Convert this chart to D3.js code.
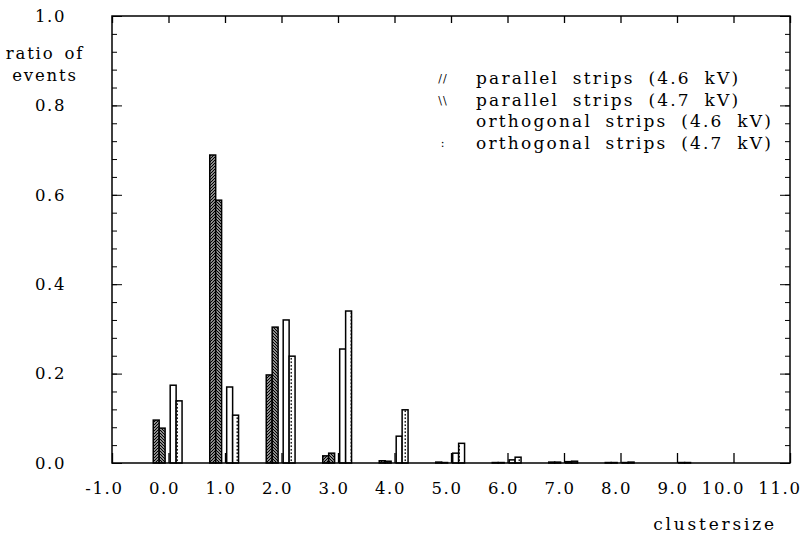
<!DOCTYPE html>
<html>
<head>
<meta charset="utf-8">
<script src="https://cdn.jsdelivr.net/npm/d3@7"></script>
<style>
  body { margin: 0; background: #fff; }
  text { font-family: "DejaVu Serif", serif; fill: #000; }
</style>
</head>
<body>
<div id="chart"></div>
<script>
const width = 808,
  height = 536,
  margin = { top: 16, bottom: 73, left: 112, right: 15 };

// cluster sizes and ratio of events per series
const clusterSizes = [0, 1, 2, 3, 4, 5, 6, 7, 8, 9];
const parallel46 = [0.096, 0.689, 0.197, 0.016, 0.005, 0.002, 0.001, 0.002, 0.001, 0.0];
const parallel47 = [0.078, 0.588, 0.304, 0.022, 0.004, 0.001, 0.001, 0.002, 0.001, 0.0];
const orthogonal46 = [0.174, 0.170, 0.320, 0.255, 0.060, 0.022, 0.007, 0.003, 0.001, 0.001];
const orthogonal47 = [0.139, 0.107, 0.239, 0.340, 0.119, 0.044, 0.013, 0.004, 0.002, 0.001];

const xTicks = d3.range(-1, 12);
const yTicks = [0, 0.2, 0.4, 0.6, 0.8, 1.0];
const yMinorTicks = d3.range(0, 1.001, 0.04);

const legendLabels = [
  "parallel strips (4.6 kV)",
  "parallel strips (4.7 kV)",
  "orthogonal strips (4.6 kV)",
  "orthogonal strips (4.7 kV)"
];
const legendSymbols = ["//", "\\\\", "", ":"];

const series = [
  { name: legendLabels[0], values: parallel46, offset: -0.27, fill: "url(#hatchFwd)" },
  { name: legendLabels[1], values: parallel47, offset: -0.165, fill: "url(#hatchBack)" },
  { name: legendLabels[2], values: orthogonal46, offset: 0.03, fill: "#fff" },
  { name: legendLabels[3], values: orthogonal47, offset: 0.135, fill: "url(#dots)" }
];
const barWidth = 0.105;

const svg = d3.select("#chart")
  .append("svg")
  .attr("width", width)
  .attr("height", height);

const defs = svg.append("defs");

defs.append("pattern")
  .attr("id", "hatchFwd")
  .attr("patternUnits", "userSpaceOnUse")
  .attr("width", 3)
  .attr("height", 3)
  .call(p => p.append("rect").attr("width", 3).attr("height", 3).attr("fill", "#fff"))
  .append("path")
  .attr("d", "M-1,1 L1,-1 M0,3 L3,0 M2,4 L4,2")
  .attr("stroke", "#000")
  .attr("stroke-width", 1.3);

defs.append("pattern")
  .attr("id", "hatchBack")
  .attr("patternUnits", "userSpaceOnUse")
  .attr("width", 3)
  .attr("height", 3)
  .call(p => p.append("rect").attr("width", 3).attr("height", 3).attr("fill", "#fff"))
  .append("path")
  .attr("d", "M-1,2 L1,4 M0,0 L3,3 M2,-1 L4,1")
  .attr("stroke", "#000")
  .attr("stroke-width", 1.3);

defs.append("pattern")
  .attr("id", "dots")
  .attr("patternUnits", "userSpaceOnUse")
  .attr("width", 6)
  .attr("height", 3.5)
  .call(p => p.append("rect").attr("width", 6).attr("height", 3.5).attr("fill", "#fff"))
  .append("rect")
  .attr("x", 2.5)
  .attr("y", 1)
  .attr("width", 1.5)
  .attr("height", 1.5)
  .attr("fill", "#000");

const xScale = d3.scaleLinear()
  .domain([-1, 11])
  .range([margin.left, width - margin.right - 3]);

const yScale = d3.scaleLinear()
  .domain([0, 1])
  .range([height - margin.bottom, margin.top]);

const x0 = xScale.range()[0], x1 = xScale.range()[1];
const y0 = yScale.range()[0], y1 = yScale.range()[1];

// bars
series.forEach((s, i) => {
  svg.append("g")
    .attr("class", "series s" + i)
    .selectAll("rect")
    .data(clusterSizes.map((c, j) => ({ c, v: s.values[j] })))
    .join("rect")
    .attr("x", d => xScale(d.c + s.offset))
    .attr("width", d => xScale(d.c + s.offset + barWidth) - xScale(d.c + s.offset))
    .attr("y", d => yScale(d.v))
    .attr("height", d => yScale(0) - yScale(d.v))
    .attr("fill", s.fill)
    .attr("stroke", "#000")
    .attr("stroke-width", 1.5);
});

// frame
svg.append("rect")
  .attr("x", x0)
  .attr("y", y1)
  .attr("width", x1 - x0)
  .attr("height", y0 - y1)
  .attr("fill", "none")
  .attr("stroke", "#000")
  .attr("stroke-width", 1.5);

// bottom axis
svg.append("g")
  .attr("class", "axis x-axis")
  .attr("transform", `translate(0,${y0})`)
  .call(d3.axisBottom(xScale).tickValues(xTicks).tickFormat(d => d.toFixed(1)).tickSize(-10).tickPadding(19))
  .call(g => g.select(".domain").remove())
  .call(g => g.selectAll("line").attr("stroke-width", 1.3))
  .call(g => g.selectAll("text")
    .attr("font-size", 16.5)
    .attr("letter-spacing", 1.6)
    .attr("text-anchor", "end")
    .attr("dx", 11));

// top axis
svg.append("g")
  .attr("transform", `translate(0,${y1})`)
  .call(d3.axisTop(xScale).tickValues(xTicks).tickFormat("").tickSize(-7))
  .call(g => g.select(".domain").remove())
  .call(g => g.selectAll("line").attr("stroke-width", 1.3));

// left axis, minor + major
svg.append("g")
  .attr("transform", `translate(${x0},0)`)
  .call(d3.axisLeft(yScale).tickValues(yMinorTicks).tickFormat("").tickSize(-5))
  .call(g => g.select(".domain").remove());

svg.append("g")
  .attr("class", "axis y-axis")
  .attr("transform", `translate(${x0},0)`)
  .call(d3.axisLeft(yScale).tickValues(yTicks).tickFormat(d3.format(".1f")).tickSize(-10).tickPadding(46))
  .call(g => g.select(".domain").remove())
  .call(g => g.selectAll("text").attr("font-size", 16.5).attr("letter-spacing", 1.6));

// right axis
svg.append("g")
  .attr("transform", `translate(${x1},0)`)
  .call(d3.axisRight(yScale).tickValues(yMinorTicks).tickFormat("").tickSize(-5))
  .call(g => g.select(".domain").remove());

svg.append("g")
  .attr("transform", `translate(${x1},0)`)
  .call(d3.axisRight(yScale).tickValues(yTicks).tickFormat("").tickSize(-10))
  .call(g => g.select(".domain").remove());

// axis titles
svg.append("text")
  .attr("x", 45)
  .attr("y", 53)
  .attr("dy", "0.35em")
  .attr("text-anchor", "middle")
  .attr("font-size", 16.5)
  .attr("letter-spacing", 1.8)
  .attr("word-spacing", 3)
  .text("ratio of");

svg.append("text")
  .attr("x", 45)
  .attr("y", 75)
  .attr("dy", "0.35em")
  .attr("text-anchor", "middle")
  .attr("font-size", 16.5)
  .attr("letter-spacing", 1.8)
  .text("events");

svg.append("text")
  .attr("x", 715)
  .attr("y", 524)
  .attr("dy", "0.35em")
  .attr("text-anchor", "middle")
  .attr("font-size", 17)
  .attr("letter-spacing", 2.8)
  .text("clustersize");

// legend
const legend = svg.append("g").attr("class", "legend");
legendLabels.forEach((label, i) => {
  const ly = 78 + i * 21.7;
  legend.append("text")
    .attr("x", 443)
    .attr("y", ly)
    .attr("dy", "0.35em")
    .attr("text-anchor", "middle")
    .attr("font-size", 11)
    .attr("font-family", "DejaVu Sans")
    .attr("letter-spacing", 1)
    .text(legendSymbols[i]);
  legend.append("text")
    .attr("x", 476)
    .attr("y", ly)
    .attr("dy", "0.35em")
    .attr("font-size", 17)
    .attr("letter-spacing", 2.2)
    .attr("word-spacing", 6)
    .text(label);
});
</script>
</body>
</html>
